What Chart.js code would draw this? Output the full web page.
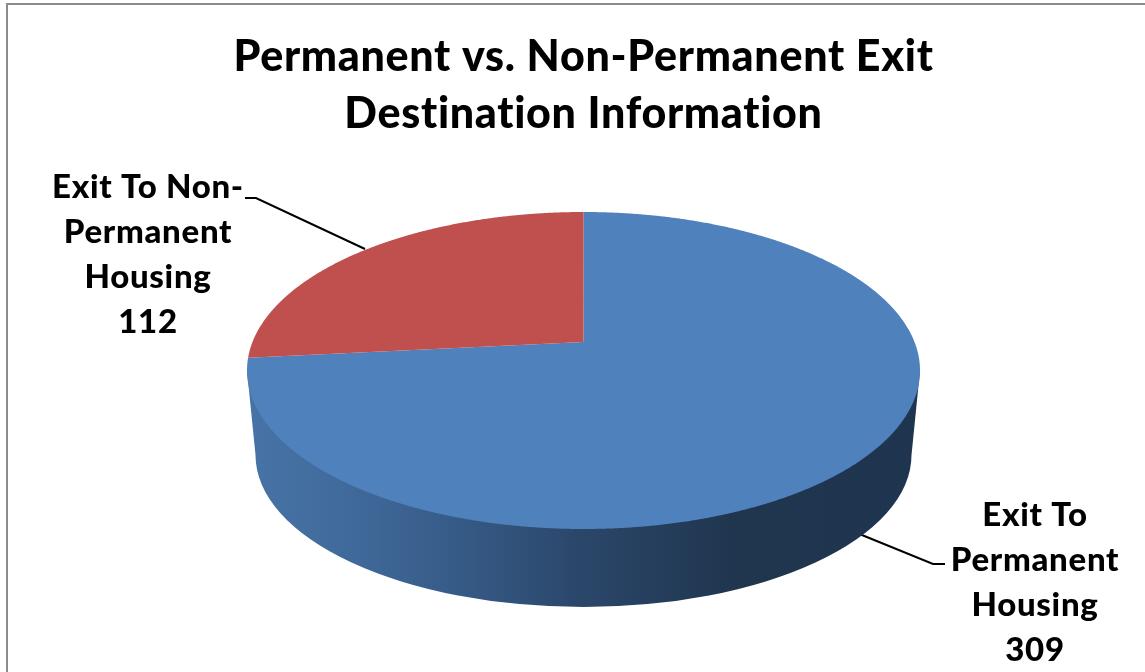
<!DOCTYPE html>
<html>
<head>
<meta charset="utf-8">
<title>Permanent vs. Non-Permanent Exit Destination Information</title>
<script src="https://cdn.jsdelivr.net/npm/chart.js@4"></script>
<style>
  html, body { margin: 0; padding: 0; background: #fff; overflow: hidden; }
  #wrap { width: 1145px; height: 672px; position: relative; }
</style>
</head>
<body>
<div id="wrap"><canvas id="myChart" width="1145" height="672"></canvas></div>
<script>
var titleLines = ['Permanent vs. Non-Permanent Exit', 'Destination Information'];
var categories = ['Exit To Permanent Housing', 'Exit To Non-Permanent Housing'];
var values = [309, 112];
var sliceColors = ['#4f81bd', '#c0504d'];
var labelLines = [['Exit To', 'Permanent', 'Housing'], ['Exit To Non-', 'Permanent', 'Housing']];

var fontName = 'Lato, "Open Sans", sans-serif';

// look of the tilted pie
var stretchX = 336.5 / 158.5; // width of the top ellipse against its height
var tilt = -0.18;             // how far perspective pushes the middle of the pie up
var lowerDrop = 84.5;         // centre of the bottom rim below centre of the top
var lowerRx = 328;
var lowerRy = 152;

// label and leader line places, one entry per slice
var labelPos = [{x: 1035, y: 515}, {x: 148, y: 187}];
var labelStep = 45.2;
var leaders = [
  [[857, 533], [933, 564], [945, 564]],
  [[365, 249], [256, 198], [245, 198]]
];

function project(el, angle) {
  var u = Math.cos(angle), v = Math.sin(angle);
  var d = 1 + tilt * v;
  return {
    x: el.x + el.outerRadius * stretchX * u * Math.sqrt(1 - tilt * tilt) / d,
    y: el.y + el.outerRadius * (v + tilt) / d
  };
}

function traceSlice(ctx, el) {
  var start = el.startAngle, end = el.endAngle;
  var apex = {x: el.x, y: el.y + el.outerRadius * tilt};
  ctx.beginPath();
  ctx.moveTo(apex.x, apex.y);
  var steps = Math.ceil((end - start) / 0.005);
  for (var i = 0; i <= steps; i++) {
    var p = project(el, start + (end - start) * i / steps);
    ctx.lineTo(p.x, p.y);
  }
  ctx.closePath();
}

var tiltedPie = {
  id: 'tiltedPie',
  beforeDraw: function (chart) {
    var ctx = chart.ctx;
    ctx.save();
    ctx.strokeStyle = '#8c8c8c';
    ctx.lineWidth = 2;
    ctx.beginPath();
    ctx.moveTo(7, 672);
    ctx.lineTo(7, 4);
    ctx.lineTo(1145, 4);
    ctx.stroke();
    ctx.restore();
    // the original font runs wider than Lato
    ctx.letterSpacing = '0.7px';
  },
  beforeDatasetsDraw: function (chart) {
    var ctx = chart.ctx;
    var arcs = chart.getDatasetMeta(0).data;
    var first = arcs[0];
    var rx = first.outerRadius * stretchX;
    var cx = first.x, cy = first.y;

    // leader lines go under the pie
    ctx.save();
    ctx.strokeStyle = '#000';
    ctx.lineWidth = 2;
    leaders.forEach(function (line) {
      ctx.beginPath();
      ctx.moveTo(line[0][0], line[0][1]);
      ctx.lineTo(line[1][0], line[1][1]);
      ctx.lineTo(line[2][0], line[2][1]);
      ctx.stroke();
    });

    // side wall
    var grad = ctx.createLinearGradient(cx - rx, 0, cx + rx, 0);
    grad.addColorStop(0, '#4873a6');
    grad.addColorStop(0.15, '#406a9b');
    grad.addColorStop(0.32, '#365a86');
    grad.addColorStop(0.5, '#2a4669');
    grad.addColorStop(0.72, '#20364f');
    grad.addColorStop(1, '#1f344e');
    ctx.fillStyle = grad;
    ctx.beginPath();
    ctx.moveTo(cx - rx, cy);
    ctx.lineTo(cx - lowerRx, cy + lowerDrop);
    ctx.ellipse(cx, cy + lowerDrop, lowerRx, lowerRy, 0, Math.PI, 0, true);
    ctx.lineTo(cx + rx, cy);
    ctx.closePath();
    ctx.fill();

    // top of the slices, angles come from the chart's own arcs
    arcs.forEach(function (arc, i) {
      var el = arc.getProps(['x', 'y', 'startAngle', 'endAngle', 'outerRadius'], true);
      traceSlice(ctx, el);
      ctx.fillStyle = sliceColors[i];
      ctx.fill();
    });

    // labels
    ctx.fillStyle = '#000';
    ctx.font = '900 33px ' + fontName;
    ctx.textAlign = 'center';
    ctx.textBaseline = 'middle';
    labelLines.forEach(function (lines, i) {
      lines.concat(String(values[i])).forEach(function (txt, n) {
        ctx.fillText(txt, labelPos[i].x, labelPos[i].y + n * labelStep);
      });
    });
    ctx.restore();
    return false;
  }
};

var ctx = document.getElementById('myChart').getContext('2d');
var myChart = new Chart(ctx, {
  type: 'pie',
  data: {
    labels: categories,
    datasets: [{
      data: values,
      backgroundColor: sliceColors,
      borderWidth: 0
    }]
  },
  options: {
    responsive: false,
    animation: false,
    layout: { padding: { left: 22, right: 0, top: 0, bottom: 143 } },
    plugins: {
      legend: { display: false },
      tooltip: { enabled: false },
      title: {
        display: true,
        text: titleLines,
        color: '#000',
        font: { family: fontName, size: 43, weight: '900', lineHeight: '57px' },
        padding: { top: 29, bottom: 69 }
      }
    }
  },
  plugins: [tiltedPie]
});
</script>
</body>
</html>
